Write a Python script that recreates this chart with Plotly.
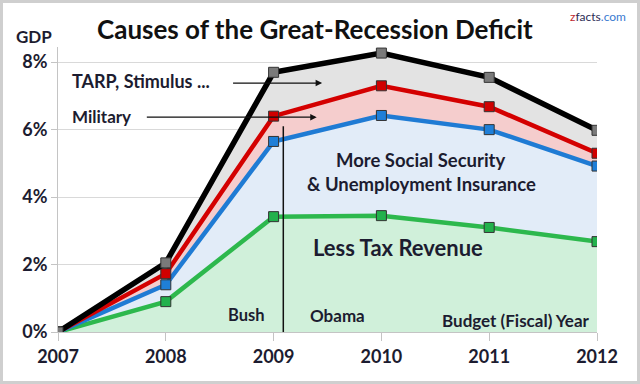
import plotly.graph_objects as go

years = [2007, 2008, 2009, 2010, 2011, 2012]
year_labels = ["2007", "2008", "2009", "2010", "2011", "2012"]
less_tax = [0.0, 0.9, 3.42, 3.45, 3.1, 2.68]
social_security = [0.0, 1.4, 5.65, 6.42, 6.0, 4.92]
military = [0.0, 1.73, 6.4, 7.3, 6.68, 5.3]
tarp_stimulus = [0.0, 2.05, 7.7, 8.27, 7.55, 5.98]
y_ticks = [0, 2, 4, 6, 8]
y_tick_labels = ["0%", "2%", "4%", "6%", "8%"]

FONT = "Lato"
TXT = "#1c1c30"

# plot-area geometry (pixels)
L, R, T, B = 58, 597, 47, 332
PW, PH = R - L, B - T

fig = go.Figure()

series = [
    (less_tax, "#2db84d", "#22b14c", "#d0f0da", "tozeroy", 4.5),
    (social_security, "#1f7bd4", "#1f7fd8", "#e2ecf8", "tonexty", 4.5),
    (military, "#d40000", "#d00000", "#f5cdcd", "tonexty", 4.5),
    (tarp_stimulus, "#000000", "#7a7a7a", "#e3e3e3", "tonexty", 5.5),
]
for vals, lc, mc, fc, fill, w in series:
    fig.add_trace(go.Scatter(
        x=years, y=vals, mode="lines+markers",
        line=dict(color=lc, width=w),
        marker=dict(symbol="square", size=10, color=mc,
                    line=dict(color="#333333", width=1)),
        fill=fill, fillcolor=fc, showlegend=False, hoverinfo="skip",
    ))

fig.add_shape(type="line", x0=2009.09, x1=2009.09, y0=0, y1=6.1,
              xref="x", yref="y", line=dict(color="#111111", width=1.5),
              layer="above")

# outer frame
fig.add_shape(type="rect", xref="paper", yref="paper",
              x0=(1.5 - L) / PW, x1=(638.5 - L) / PW,
              y0=(B - 382.5) / PH, y1=(B - 1.5) / PH,
              line=dict(color="#cfcfcf", width=3), layer="below")

def txt(x, y, s, size=17, anchor="center", color=TXT):
    fig.add_annotation(x=x, y=y, xref="x", yref="y", text=f"<b>{s}</b>",
                       showarrow=False, xanchor=anchor, yanchor="middle",
                       font=dict(family=FONT, size=size, color=color))

txt(2007.11, 7.43, "TARP, Stimulus ...", 18, "left")
txt(2007.11, 6.4, "Military", 17, "left")
txt(2010.37, 5.1, "More Social Security", 18.5)
txt(2010.37, 4.39, "&amp; Unemployment Insurance", 18.5)
txt(2010.15, 2.52, "Less Tax Revenue", 22)
txt(2008.75, 0.5, "Bush", 16.5)
txt(2009.59, 0.5, "Obama", 17)
txt(2011.95, 0.33, "Budget (Fiscal) Year", 17, "right")

for tail, head, yy in [(2008.61, 2009.45, 7.38), (2007.81, 2009.40, 6.37)]:
    fig.add_annotation(x=head, y=yy, ax=tail, ay=yy, xref="x", yref="y",
                       axref="x", ayref="y", text="", showarrow=True,
                       arrowhead=2, arrowsize=1, arrowwidth=1.3, arrowcolor="#111111")

def ptxt(px, py, s, size, anchor="center", color=TXT):
    fig.add_annotation(xref="paper", yref="paper", x=(px - L) / PW, y=(B - py) / PH,
                       text=s, showarrow=False, xanchor=anchor, yanchor="middle",
                       font=dict(family=FONT, size=size, color=color))

ptxt(315, 29, "<b>Causes of the Great-Recession Deficit</b>", 26, color="#111111")
ptxt(34, 36, "<b>GDP</b>", 17)
ptxt(628, 17, "<span style='color:#c0272d'>z</span><span style='color:#2b2b55'>facts</span>"
              "<span style='color:#3a7ad0'>.com</span>", 12, "right")

fig.update_xaxes(range=[2007, 2012], tickmode="array", tickvals=years, ticktext=year_labels,
                 showgrid=False, showline=True, linecolor="#c4c4c4", linewidth=1,
                 ticks="outside", ticklen=8, tickcolor="#c4c4c4", zeroline=False,
                 tickfont=dict(family=FONT, size=18, color=TXT, weight="bold"), fixedrange=True)
fig.update_yaxes(range=[0, 8.45], tickmode="array", tickvals=y_ticks, ticktext=y_tick_labels,
                 showgrid=True, gridcolor="#d9d9d9", gridwidth=1,
                 showline=True, linecolor="#c4c4c4", linewidth=1,
                 ticks="outside", ticklen=6, tickcolor="#c4c4c4", zeroline=False,
                 tickfont=dict(family=FONT, size=18, color=TXT, weight="bold"), fixedrange=True)

fig.update_layout(
    width=640, height=384,
    margin=dict(l=L, r=640 - R, t=T, b=384 - B),
    plot_bgcolor="white", paper_bgcolor="white",
    font=dict(family=FONT, color=TXT),
)
fig.write_html("out.html", config={"displayModeBar": False},
               post_script="document.body.style.margin='0';")
